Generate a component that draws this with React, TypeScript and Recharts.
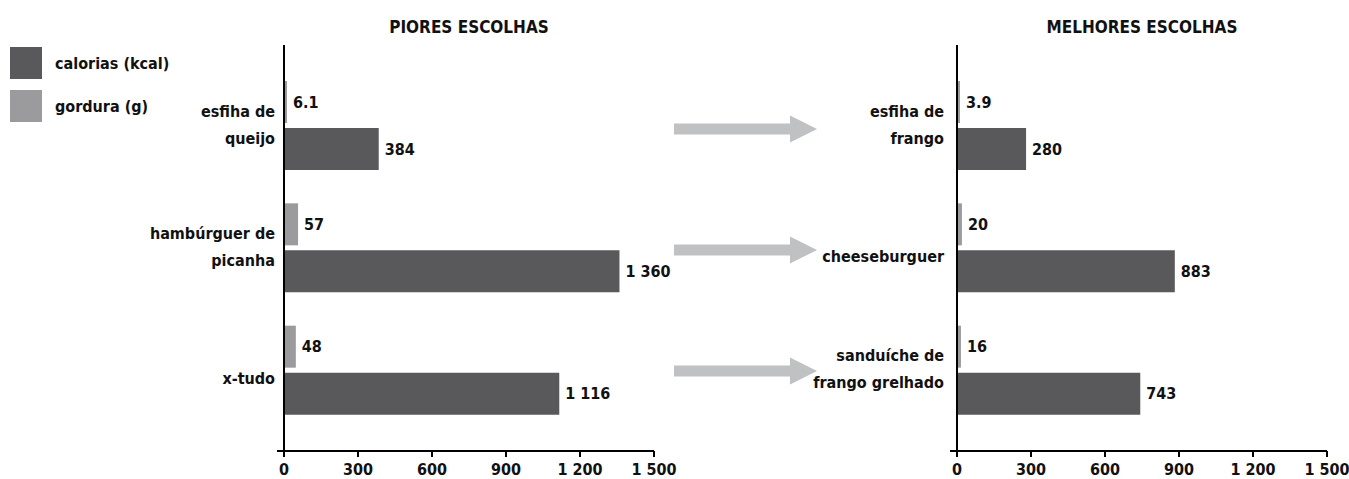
import { Bar, BarChart, LabelList, XAxis, YAxis } from 'recharts';

const FONT = "'DejaVu Sans Condensed', 'Liberation Sans Narrow', sans-serif";
const DARK = '#59595b';
const LIGHT = '#9b9b9d';
const ARROW = '#c0c1c3';
const INK = '#111';

const seriesNames = ['calorias (kcal)', 'gordura (g)'];

const worstFoods = ['esfiha de\nqueijo', 'hambúrguer de\npicanha', 'x-tudo'];
const worstKcal = [384, 1360, 1116];
const worstFat = [6.1, 57, 48];

const bestFoods = ['esfiha de\nfrango', 'cheeseburguer', 'sanduíche de\nfrango grelhado'];
const bestKcal = [280, 883, 743];
const bestFat = [3.9, 20, 16];

const xTicks = [0, 300, 600, 900, 1200, 1500];

const fmt = (v: number) => String(v).replace(/\B(?=(\d{3})+(?!\d))/g, ' ');

function buildRows(names: string[], kcal: number[], fat: number[]) {
  return names.map((name, i) => ({ name, kcal: kcal[i], fat: fat[i] }));
}

function CategoryTick({ x, y, payload }: any) {
  const lines = String(payload.value).split('\n');
  const offsets = lines.length === 1 ? [9] : [-14, 13];
  return (
    <g>
      {lines.map((l, i) => (
        <text
          key={i}
          x={x}
          y={y + offsets[i]}
          textAnchor="end"
          dominantBaseline="central"
          fontFamily={FONT}
          fontWeight="bold"
          fontSize={16}
          fill={INK}
        >
          {l}
        </text>
      ))}
    </g>
  );
}

function ValueLabel({ x, y, width, height, value }: any) {
  return (
    <text
      x={x + width + 6}
      y={y + height / 2}
      dominantBaseline="central"
      fontFamily={FONT}
      fontWeight="bold"
      fontSize={16}
      fill={INK}
    >
      {fmt(value)}
    </text>
  );
}

function Panel({
  title,
  rows,
  left,
  width,
  rightMargin,
  axisWidth,
  tickGap,
}: {
  title: string;
  rows: { name: string; kcal: number; fat: number }[];
  left: number;
  width: number;
  rightMargin: number;
  axisWidth: number;
  tickGap: number;
}) {
  return (
    <div style={{ position: 'absolute', left, top: 0, width, height: 479 }}>
      <BarChart
        width={width}
        height={479}
        data={rows}
        layout="vertical"
        margin={{ top: 45, right: rightMargin, bottom: 0, left: 0 }}
        barSize={42}
        barGap={5}
      >
        <XAxis
          type="number"
          domain={[0, 1500]}
          ticks={xTicks}
          tickFormatter={fmt}
          height={28}
          tickSize={6}
          tickMargin={7}
          interval={0}
          axisLine={{ stroke: '#000', strokeWidth: 2 }}
          tickLine={{ stroke: '#000', strokeWidth: 2 }}
          tick={{ fill: INK, fontFamily: FONT, fontWeight: 'bold', fontSize: 16 }}
        />
        <YAxis
          type="category"
          dataKey="name"
          width={axisWidth}
          padding={{ top: 19, bottom: 20 }}
          axisLine={{ stroke: '#000', strokeWidth: 2 }}
          tickLine={false}
          tickMargin={tickGap}
          tick={<CategoryTick />}
        />
        <Bar dataKey="fat" name={seriesNames[1]} fill={LIGHT} minPointSize={3} isAnimationActive={false}>
          <LabelList dataKey="fat" content={<ValueLabel />} />
        </Bar>
        <Bar dataKey="kcal" name={seriesNames[0]} fill={DARK} isAnimationActive={false}>
          <LabelList dataKey="kcal" content={<ValueLabel />} />
        </Bar>
      </BarChart>
      <div
        style={{
          position: 'absolute',
          top: 17,
          left: axisWidth,
          width: width - axisWidth - rightMargin,
          textAlign: 'center',
          fontFamily: FONT,
          fontWeight: 'bold',
          fontSize: 17,
          color: INK,
        }}
      >
        {title}
      </div>
    </div>
  );
}

export default function App() {
  const worst = buildRows(worstFoods, worstKcal, worstFat);
  const best = buildRows(bestFoods, bestKcal, bestFat);
  const arrowYs = [129, 250, 371];
  return (
    <div style={{ position: 'absolute', left: 0, top: 0, width: 1349, height: 479, background: '#fff', overflow: 'hidden' }}>
      {/* legend */}
      {seriesNames.map((s, i) => (
        <div key={s} style={{ position: 'absolute', left: 10, top: 47 + i * 43, display: 'flex', alignItems: 'center' }}>
          <div style={{ width: 32, height: 32, background: i === 0 ? DARK : LIGHT }} />
          <span style={{ marginLeft: 13, fontFamily: FONT, fontWeight: 'bold', fontSize: 16, color: INK }}>{s}</span>
        </div>
      ))}
      <Panel title="PIORES ESCOLHAS" rows={worst} left={0} width={680} rightMargin={26} axisWidth={284} tickGap={3} />
      <Panel title="MELHORES ESCOLHAS" rows={best} left={680} width={669} rightMargin={22} axisWidth={277} tickGap={7} />
      {/* arrows and axis stubs */}
      <svg width={1349} height={479} style={{ position: 'absolute', left: 0, top: 0, pointerEvents: 'none' }}>
        {arrowYs.map((y) => (
          <polygon
            key={y}
            fill={ARROW}
            points={`674,${y - 5.5} 790,${y - 5.5} 790,${y - 13.5} 817,${y} 790,${y + 13.5} 790,${y + 5.5} 674,${y + 5.5}`}
          />
        ))}
        <line x1={277} x2={285} y1={451} y2={451} stroke="#000" strokeWidth={2} />
        <line x1={950} x2={958} y1={451} y2={451} stroke="#000" strokeWidth={2} />
      </svg>
    </div>
  );
}
